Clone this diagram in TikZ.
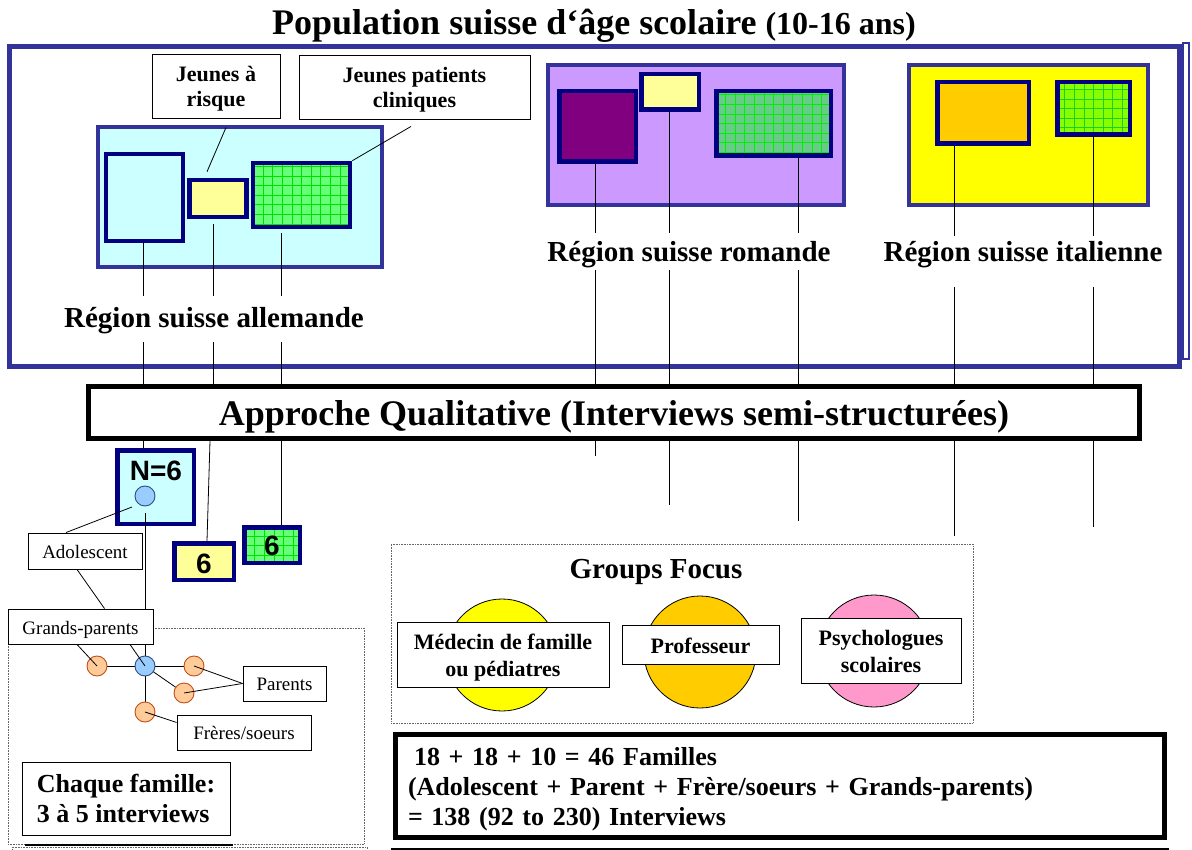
\documentclass[tikz,border=0pt]{standalone}
\usepackage{fontspec}
\setmainfont{Liberation Serif}
\newfontfamily\sansfont{Liberation Sans}
\usetikzlibrary{calc}

\definecolor{frameblue}{HTML}{333399}
\definecolor{navyb}{HTML}{000080}
\definecolor{cyanf}{HTML}{CCFFFF}
\definecolor{paleyellow}{HTML}{FFFF99}
\definecolor{lilac}{HTML}{CC99FF}
\definecolor{plum}{HTML}{800080}
\definecolor{brightyellow}{HTML}{FFFF00}
\definecolor{amber}{HTML}{FFCC00}
\definecolor{pinkf}{HTML}{FF99CC}
\definecolor{greenA}{HTML}{66FF77}
\definecolor{greenAgrid}{HTML}{00E000}
\definecolor{greenB}{HTML}{66CC88}
\definecolor{greenBgrid}{HTML}{00F000}
\definecolor{greenC}{HTML}{88FF00}
\definecolor{greenCgrid}{HTML}{22CC22}
\definecolor{dotblue}{HTML}{99CCFF}
\definecolor{dotblueedge}{HTML}{2F4F7F}
\definecolor{dotorange}{HTML}{FFCC99}
\definecolor{dotorangeedge}{HTML}{C0501A}

\newcommand\fs[2]{\fontsize{#1}{#2}\selectfont}

\begin{document}
\begin{tikzpicture}[x=1pt, y=-1pt,
  regionbox/.style={draw=frameblue, line width=4pt, inner sep=0pt},
  subbox/.style={draw=navyb, line width=4.5pt, inner sep=0pt},
  gridded/.style 2 args={fill=#1, path picture={\draw[#2, line width=0.5pt, step=9.6pt] (path picture bounding box.south west) grid (path picture bounding box.north east);}},
  textbox/.style={draw=black, line width=0.9pt, fill=white, align=center, inner sep=0pt},
  conn/.style={draw=black, line width=0.8pt},
  person/.style={circle, line width=0.9pt, minimum size=20, inner sep=0pt},
  blueperson/.style={person, draw=dotblueedge, fill=dotblue},
  orangeperson/.style={person, draw=dotorangeedge, fill=dotorange},
  focusdisc/.style={circle, draw=black, line width=0.8pt, minimum size=112, inner sep=0pt},
  dotframe/.style={draw=black!60, line width=0.7pt, dash pattern=on 0.7pt off 0.9pt, inner sep=0pt},
]
\useasboundingbox (0,0) rectangle (1192,850);

% ---- title
\node[inner sep=0pt, anchor=base west, font=\bfseries] (title) at (272,35)
  {\fs{36}{36}Population suisse d‘âge scolaire {\fs{32}{32}(10-16 ans)}};

% ---- population frame
\node[draw=frameblue, fill=white, line width=2.5pt, minimum width=6, minimum height=316, inner sep=0pt] (popside) at (1186,201) {};
\node[draw=frameblue, line width=5pt, minimum width=1170, minimum height=320, inner sep=0pt] (pop) at (594,206.5) {};

% ---- German-speaking region
\node[regionbox, fill=cyanf, minimum width=284, minimum height=140] (de) at (240,197) {};
% ---- French-speaking region
\node[regionbox, fill=lilac, minimum width=296, minimum height=140] (ro) at (696,135) {};
% ---- Italian-speaking region
\node[regionbox, fill=brightyellow, minimum width=239, minimum height=140] (it) at (1028.5,135) {};

% ---- qualitative approach bar
\node[draw=black, line width=5pt, fill=white, minimum width=1051, minimum height=52, inner sep=0pt,
      font=\bfseries\fs{36}{36}, text height=25pt, text depth=0pt] (appr) at (614,412.5)
  {Approche Qualitative (Interviews semi-structurées)};

% ---- family samples
\node[subbox, fill=cyanf, minimum width=76.5, minimum height=73.5] (n6) at (155.5,487) {};
\node[subbox, fill=paleyellow, minimum width=59.5, minimum height=36.5,
      font=\sansfont\bfseries\fs{28}{28}, text height=23pt, text depth=0pt] (y6) at (204,561.5) {6};
\node[subbox, gridded={greenA}{greenAgrid}, minimum width=55.5, minimum height=35.5,
      font=\sansfont\bfseries\fs{28}{28}, text height=20pt, text depth=0pt] (g6) at (272,545) {6};

% ---- break points of the vertical connectors
\coordinate (brkDEa) at (0,296);
\coordinate (brkDEb) at (0,342);
\coordinate (brkROa) at (0,233);
\coordinate (brkROb) at (0,270);
\coordinate (brkITa) at (0,236);
\coordinate (brkITb) at (0,287);
\coordinate (colA) at (143,0);
\coordinate (colB) at (213,0);
\coordinate (colB2) at (210,0);
\coordinate (colC) at (281,0);
\coordinate (colR1) at (595,0);
\coordinate (colR2) at (669,0);
\coordinate (colR3) at (798,0);
\coordinate (colI1) at (954,0);
\coordinate (colI2) at (1093,0);
\coordinate (endR1) at (595,456);
\coordinate (endR2) at (669,505);
\coordinate (endR3) at (798,521);
\coordinate (endI1) at (954,536);
\coordinate (endI2) at (1093,527);

% sub-groups inside the regions
\node[subbox, fill=cyanf, minimum width=77, minimum height=87] (deA) at (144.5,197.5) {};
\node[subbox, fill=paleyellow, minimum width=57, minimum height=37] (deB) at (218,198.5) {};
\node[subbox, gridded={greenA}{greenAgrid}, minimum width=97, minimum height=64] (deC) at (301.5,195) {};
\node[subbox, fill=plum, minimum width=76.5, minimum height=70.5] (roA) at (597.5,126.5) {};
\node[subbox, fill=paleyellow, minimum width=57.5, minimum height=35.5] (roB) at (670,92) {};
\node[subbox, gridded={greenB}{greenBgrid}, minimum width=114.5, minimum height=64.5] (roC) at (773.5,123.5) {};
\node[subbox, fill=amber, minimum width=91.5, minimum height=61.5] (itA) at (983,113) {};
\node[subbox, gridded={greenC}{greenCgrid}, minimum width=72.5, minimum height=52.5] (itB) at (1093.5,108.5) {};

\coordinate (deBfoot) at ([yshift=-5pt]deB.south);
\coordinate (deCfoot) at ([yshift=-4pt]deC.south);

% region labels
\node[inner sep=0pt, anchor=base, font=\bfseries\fs{29}{29}] (lDE) at (214,328) {Région suisse allemande};
\node[inner sep=0pt, anchor=base, font=\bfseries\fs{29}{29}] (lRO) at (689,262) {Région suisse romande};
\node[inner sep=0pt, anchor=base, font=\bfseries\fs{29}{29}] (lIT) at (1023,262) {Région suisse italienne};

% callouts for the German sub-groups
\node[textbox, font=\bfseries\fs{22}{25}, minimum width=128, minimum height=64,
      text height=42pt, text depth=0pt] (jr) at (216,86) {Jeunes à\\risque};
\node[textbox, font=\bfseries\fs{22}{25}, minimum width=231, minimum height=64,
      text height=42pt, text depth=0pt] (jp) at (414.5,87) {Jeunes patients\\cliniques};
\draw[conn] ([shift={(10,9)}]jr.south) -- ([shift={(-11,-6)}]deB.north);
\draw[conn] ([shift={(-3.5,7)}]jp.south) -- (deC.north east);

% vertical connectors, German region
\draw[conn] (deA.south -| colA) -- (brkDEa -| colA);
\draw[conn] (brkDEb -| colA) -- (appr.north -| colA);
\draw[conn] (appr.south -| colA) -- (n6.north -| colA);
\draw[conn] (deBfoot -| colB) -- (brkDEa -| colB);
\draw[conn] (brkDEb -| colB) -- (appr.north -| colB);
\draw[conn] (appr.south -| colB2) -- ([xshift=3pt]y6.north);
\draw[conn] (deCfoot -| colC) -- (brkDEa -| colC);
\draw[conn] (brkDEb -| colC) -- (appr.north -| colC);
\draw[conn] (appr.south -| colC) -- (g6.north -| colC);

% vertical connectors, French region
\draw[conn] (roA.south -| colR1) -- (brkROa -| colR1);
\draw[conn] (brkROb -| colR1) -- (appr.north -| colR1);
\draw[conn] (appr.south -| colR1) -- (endR1);
\draw[conn] (roB.south -| colR2) -- (brkROa -| colR2);
\draw[conn] (brkROb -| colR2) -- (appr.north -| colR2);
\draw[conn] (appr.south -| colR2) -- (endR2);
\draw[conn] (roC.south -| colR3) -- (brkROa -| colR3);
\draw[conn] (brkROb -| colR3) -- (appr.north -| colR3);
\draw[conn] (appr.south -| colR3) -- (endR3);

% vertical connectors, Italian region
\draw[conn] (itA.south -| colI1) -- (brkITa -| colI1);
\draw[conn] (brkITb -| colI1) -- (appr.north -| colI1);
\draw[conn] (appr.south -| colI1) -- (endI1);
\draw[conn] (itB.south -| colI2) -- (brkITa -| colI2);
\draw[conn] (brkITb -| colI2) -- (appr.north -| colI2);
\draw[conn] (appr.south -| colI2) -- (endI2);

% ---- one family
\node[dotframe, minimum width=356, minimum height=216] (famframe) at (186,736) {};
\draw[dotframe] (12,847) rectangle (367,880);
\node[inner sep=0pt, anchor=base, font=\sansfont\bfseries\fs{28}{28}] (n6t) at (156,480) {N=6};
\node[blueperson] (ado) at (145,496) {};
\node[textbox, font=\fs{19}{19}, minimum width=114, minimum height=36,
      text height=14pt, text depth=0pt] (adoL) at (85,551) {Adolescent};
\node[textbox, font=\fs{19}{19}, minimum width=145, minimum height=35,
      text height=15pt, text depth=0pt] (gp) at (80.5,626.5) {Grands-parents};
\draw[conn] ([shift={(-13,11)}]ado.center) -- ([xshift=-19pt]adoL.north);
\draw[conn] ([xshift=-8pt]adoL.south) -- ([xshift=24pt]gp.north);
\draw[conn] ([yshift=-7pt]ado.south) -- (gp.north -| ado);

\coordinate (famc) at (145,666);
\draw[conn] (gp.south -| famc) -- (famc);
\draw[conn] (famc) -- (97,666) coordinate (o1pos);
\draw[conn] (famc) -- (194,666) coordinate (o2pos);
\draw[conn] (famc) -- (184,693) coordinate (o3pos);
\draw[conn] (famc) -- (145,712) coordinate (o4pos);
\node[blueperson] (self) at (famc) {};
\node[orangeperson] (o1) at (o1pos) {};
\node[orangeperson] (o2) at (o2pos) {};
\node[orangeperson] (o3) at (o3pos) {};
\node[orangeperson] (o4) at (o4pos) {};
\draw[conn] ([xshift=-3.5pt]gp.south) -- (o1.center);
\draw[conn] ([xshift=49.5pt]gp.south) -- (self.center);

\node[textbox, font=\fs{19}{19}, minimum width=83, minimum height=35,
      text height=13pt, text depth=0pt] (par) at (284.5,683.5) {Parents};
\node[textbox, font=\fs{19}{19}, minimum width=134, minimum height=35,
      text height=13pt, text depth=0pt] (sib) at (244,732.5) {Frères/soeurs};
\draw[conn] (o2.center) -- (par.west);
\draw[conn] (o3.center) -- (par.west);
\draw[conn] (o4.center) -- ([yshift=10pt]sib.west);

\node[textbox, align=left, font=\bfseries\fs{26}{30}, minimum width=208, minimum height=73,
      text height=47pt, text depth=0pt] (chq) at (126,798.5) {Chaque famille:\\3 à 5 interviews};
\draw[line width=2pt] ([shift={(3,10)}]chq.south west) -- ([shift={(3,10)}]chq.south east);

% ---- focus groups
\node[dotframe, minimum width=582, minimum height=179] (gff) at (682,633.5) {};
\node[inner sep=0pt, anchor=base, font=\bfseries\fs{29}{29}] (gft) at (656,578) {Groups Focus};
\node[focusdisc, fill=brightyellow] (dMed) at (502,655) {};
\node[focusdisc, fill=amber] (dProf) at (700,652) {};
\node[focusdisc, fill=pinkf] (dPsy) at (874,651) {};
\node[textbox, font=\bfseries\fs{22}{27}, minimum width=212, minimum height=65,
      text height=43pt, text depth=0pt] (tMed) at (503,654.5) {Médecin de famille\\ou pédiatres};
\node[textbox, font=\bfseries\fs{22}{22}, minimum width=157, minimum height=39,
      text height=17pt, text depth=0pt] (tProf) at (700.5,644.5) {Professeur};
\node[textbox, font=\bfseries\fs{22}{27}, minimum width=160, minimum height=65,
      text height=43pt, text depth=0pt] (tPsy) at (881,650.5) {Psychologues\\scolaires};

% ---- totals
\node[draw=black, line width=5pt, fill=white, minimum width=769, minimum height=103, inner sep=0pt,
      font=\bfseries\fs{26}{30}, align=left, text width=744pt, text height=0pt, text depth=42pt] (tot) at (780,786)
  {\hspace*{6pt}18 + 18 + 10 = 46 Familles\\(Adolescent + Parent + Frère/soeurs + Grands-parents)\\= 138 (92 to 230) Interviews};
\draw[line width=4pt] ([yshift=-10pt]tot.south west) ++(0,20) -- ([yshift=-10pt]tot.south west)
  -- ([yshift=-10pt]tot.south east) -- ++(0,20);
\end{tikzpicture}
\end{document}
